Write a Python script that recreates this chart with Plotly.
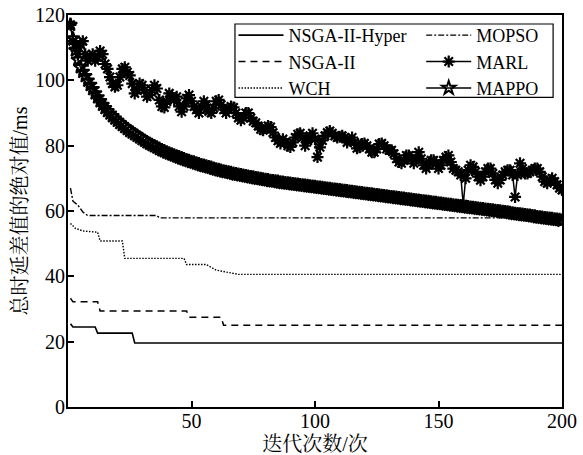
import plotly.graph_objects as go

# ---------------- data ----------------
iters = list(range(1, 201))

hyper_x = [1, 2, 11, 12, 26, 27, 200]
hyper_y = [25.5, 24.5, 24.5, 22.6, 22.6, 19.6, 19.6]

nsga_x = [1, 2, 12, 13, 48, 49, 62, 63, 200]
nsga_y = [33.3, 32.2, 32.2, 29.4, 29.4, 27.5, 27.5, 25.0, 25.0]

wch_x = [1, 3, 6, 12, 13, 22, 23, 47, 48, 56, 60, 69, 200]
wch_y = [56.2, 54.7, 53.9, 53.5, 50.8, 50.8, 45.5, 45.5, 43.6, 43.6, 41.9, 40.6, 40.6]

mopso_x = [1, 2, 4, 6, 8, 36, 37, 200]
mopso_y = [67.0, 63.0, 61.8, 59.7, 58.6, 58.6, 57.9, 57.9]

marl_y = [
    117, 112, 110, 108, 111, 112, 108, 106, 107, 108,
    106, 107, 109, 108, 105, 103.5, 101, 99, 98, 98.5,
    101, 103.5, 104, 102.5, 101.5, 99, 96, 97, 99, 98.5,
    97, 95, 95.5, 97, 98.5, 97.5, 94, 92, 91.7, 93.5,
    96, 95, 94, 95, 92, 90.4, 92, 94.5, 95.5, 93.6,
    92, 91, 90, 92, 93.6, 92.5, 90.5, 90, 91.5, 93.6,
    94, 92.5, 91, 90, 91, 92, 91.7, 90, 88.5, 87.8,
    88.5, 90, 90, 88.5, 87.5, 87, 86, 85, 84.7, 85.5,
    86, 85.7, 84, 82.5, 81.5, 80.7, 82, 81, 80, 79.6,
    81, 82.5, 83.5, 83.8, 82.5, 80, 81.5, 83, 83.8, 82,
    76.5, 79.5, 81.6, 83, 84, 84.5, 83.8, 83, 82.5, 82.7,
    83, 82.5, 81, 81.6, 82.5, 81, 79.2, 79.5, 80.5, 80.7,
    80, 79, 78, 78, 79, 80.5, 80.7, 80, 79, 78.6,
    78.6, 77.5, 76, 75, 74.6, 75.5, 77, 77, 76, 74.6,
    76, 78, 76, 74, 73, 74, 75.5, 75.5, 74.5, 73,
    74, 75.5, 76.5, 77, 75, 73, 72.5, 72, 71, 62,
    70, 72.5, 74, 73.5, 72, 70.5, 69.4, 70.5, 72, 73,
    73, 71.5, 69.5, 68.5, 69.5, 71, 72, 72.5, 72.5, 71,
    64.3, 71, 74.6, 73, 71.5, 71.5, 72, 72.5, 73, 73,
    72, 70.5, 69, 68.5, 69.5, 70, 69, 68, 67, 66.4,
]

mappo_y = [
    117.0, 112.8, 109.2, 106.3, 104.0, 102.6, 101.3, 99.9, 98.6, 97.3,
    96.0, 94.8, 93.6, 92.5, 91.5, 90.6, 89.8, 89.0, 88.3, 87.6,
    86.9, 86.3, 85.7, 85.1, 84.5, 84.0, 83.5, 83.0, 82.5, 82.0,
    81.5, 81.0, 80.6, 80.2, 79.8, 79.4, 79.0, 78.6, 78.3, 77.9,
    77.6, 77.3, 77.0, 76.7, 76.4, 76.1, 75.8, 75.5, 75.3, 75.0,
    74.8, 74.5, 74.3, 74.0, 73.8, 73.6, 73.4, 73.2, 72.9, 72.7,
    72.5, 72.3, 72.1, 71.9, 71.8, 71.6, 71.4, 71.2, 71.1, 70.9,
    70.8, 70.6, 70.5, 70.3, 70.2, 70.0, 69.9, 69.8, 69.6, 69.5,
    69.4, 69.2, 69.1, 69.0, 68.9, 68.7, 68.6, 68.5, 68.4, 68.3,
    68.2, 68.1, 68.0, 67.9, 67.8, 67.7, 67.6, 67.5, 67.4, 67.3,
    67.2, 67.1, 67.0, 66.9, 66.8, 66.7, 66.6, 66.5, 66.4, 66.3,
    66.2, 66.1, 66.0, 65.9, 65.8, 65.7, 65.6, 65.5, 65.4, 65.3,
    65.2, 65.1, 65.0, 64.9, 64.8, 64.7, 64.6, 64.5, 64.4, 64.3,
    64.2, 64.1, 64.0, 63.9, 63.8, 63.7, 63.6, 63.5, 63.4, 63.3,
    63.2, 63.1, 63.0, 62.9, 62.8, 62.7, 62.6, 62.5, 62.4, 62.3,
    62.2, 62.1, 62.0, 61.9, 61.8, 61.7, 61.6, 61.5, 61.4, 61.3,
    61.2, 61.1, 61.0, 60.9, 60.8, 60.7, 60.6, 60.5, 60.4, 60.3,
    60.2, 60.1, 60.0, 59.9, 59.8, 59.7, 59.6, 59.5, 59.4, 59.2,
    59.1, 59.0, 58.9, 58.8, 58.7, 58.6, 58.5, 58.4, 58.3, 58.1,
    58.0, 57.9, 57.8, 57.7, 57.6, 57.5, 57.4, 57.3, 57.2, 57.0,
]

x_ticks = [50, 100, 150, 200]
y_ticks = [0, 20, 40, 60, 80, 100, 120]
x_title = "迭代次数/次"
y_title = "总时延差值的绝对值/ms"

# ---------------- figure ----------------
SERIF = "Liberation Serif"
TITLEF = "Liberation Serif, Noto Serif CJK SC, Noto Sans CJK SC"
fig = go.Figure()

fig.add_trace(go.Scatter(x=hyper_x, y=hyper_y, mode="lines", name="NSGA-II-Hyper",
                         line=dict(color="black", width=1.6), legend="legend"))
fig.add_trace(go.Scatter(x=nsga_x, y=nsga_y, mode="lines", name="NSGA-II",
                         line=dict(color="black", width=1.5, dash="7px,5px"), legend="legend"))
fig.add_trace(go.Scatter(x=wch_x, y=wch_y, mode="lines", name="WCH",
                         line=dict(color="black", width=1.4, dash="1.5px,1.5px"), legend="legend"))
fig.add_trace(go.Scatter(x=mopso_x, y=mopso_y, mode="lines", name="MOPSO",
                         line=dict(color="black", width=1.4, dash="6px,2px,2px,2px"), legend="legend2"))
fig.add_trace(go.Scatter(x=iters, y=marl_y, mode="lines+markers", name="MARL",
                         line=dict(color="black", width=1.5),
                         marker=dict(symbol="asterisk-open", size=10, color="black",
                                     line=dict(color="black", width=2.2)),
                         legend="legend2"))
fig.add_trace(go.Scatter(x=iters, y=mappo_y, mode="lines+markers", name="MAPPO",
                         line=dict(color="black", width=1.5),
                         marker=dict(symbol="star-open", size=10, color="black",
                                     line=dict(color="black", width=2)),
                         legend="legend2"))

axis_common = dict(showline=True, linecolor="black", linewidth=2, mirror=True,
                   ticks="inside", ticklen=6, tickwidth=1.5, tickcolor="black",
                   showgrid=False, zeroline=False,
                   tickfont=dict(family=SERIF, size=20, color="black"))

fig.update_xaxes(range=[0, 200], tickvals=x_ticks, ticklabelstandoff=-5, automargin=False,
                 **axis_common,
                 title=dict(text=x_title, font=dict(family=TITLEF, size=20, color="black")))
fig.update_yaxes(range=[0, 120], tickvals=y_ticks, ticklabelstandoff=-3, automargin=True,
                 **axis_common,
                 title=dict(text=y_title, font=dict(family=TITLEF, size=20, color="black"),
                            standoff=2))

leg_common = dict(bgcolor="rgba(0,0,0,0)", borderwidth=0, itemwidth=45,
                  font=dict(family=SERIF, size=18, color="black"),
                  tracegroupgap=0, xanchor="left", yanchor="top", traceorder="normal")

fig.update_layout(
    width=583, height=455,
    margin=dict(l=68, r=21, t=15, b=48, autoexpand=False),
    paper_bgcolor="white", plot_bgcolor="white",
    showlegend=True,
    legend=dict(x=0.335, y=0.995, **leg_common),
    legend2=dict(x=0.715, y=0.995, **leg_common),
    shapes=[dict(type="rect", xref="paper", yref="paper",
                 x0=0.338, x1=0.982, y0=0.79, y1=0.977,
                 line=dict(color="black", width=1.2), fillcolor="rgba(0,0,0,0)")],
)

fig.write_html("out.html", config={"displayModeBar": False},
               post_script="document.body.style.margin='0';document.body.style.padding='0';")
